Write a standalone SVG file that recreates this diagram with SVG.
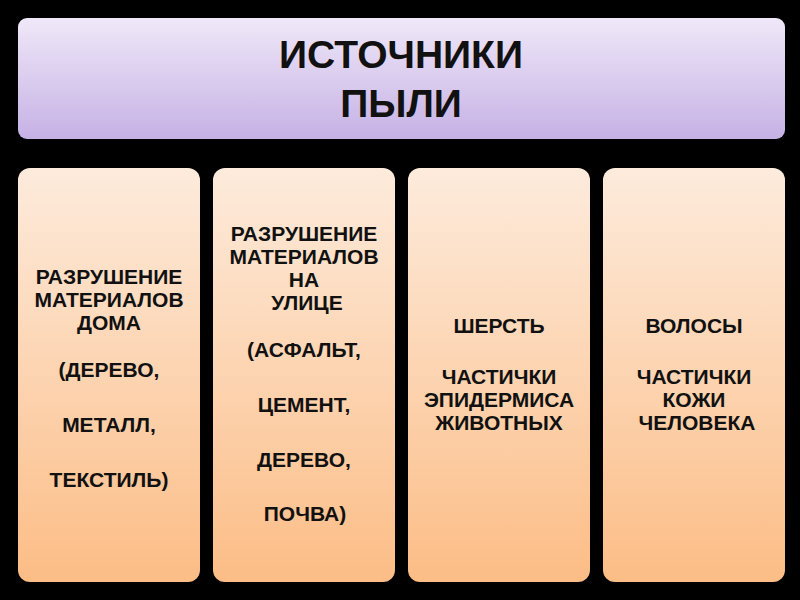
<svg xmlns="http://www.w3.org/2000/svg" width="800" height="600" viewBox="0 0 800 600">
  <defs>
    <linearGradient id="gHead" x1="0" y1="0" x2="0" y2="1">
      <stop offset="0" stop-color="#efe8f8"/>
      <stop offset="1" stop-color="#c6b1e5"/>
    </linearGradient>
    <linearGradient id="gBox" x1="0" y1="0" x2="0" y2="1">
      <stop offset="0" stop-color="#fdebdc"/>
      <stop offset="1" stop-color="#fcbd86"/>
    </linearGradient>
  </defs>
  <style>
    .head { fill: url(#gHead); }
    .box { fill: url(#gBox); }
    .t { font-family: "Liberation Sans", Arial, sans-serif; font-weight: bold; fill: #111; text-anchor: middle; }
    .h { font-size: 39px; }
    .b { font-size: 21px; }
  </style>
  <rect x="0" y="0" width="800" height="600" fill="#000"/>

  <g id="header">
    <rect class="head" x="18" y="18" width="767" height="121" rx="9"/>
    <text class="t h" x="401" y="68">ИСТОЧНИКИ</text>
    <text class="t h" x="401" y="117">ПЫЛИ</text>
  </g>

  <g id="box-home">
    <rect class="box" x="18" y="168" width="182" height="414" rx="12"/>
    <text class="t b" x="109" y="284">РАЗРУШЕНИЕ</text>
    <text class="t b" x="109" y="307">МАТЕРИАЛОВ</text>
    <text class="t b" x="109" y="330">ДОМА</text>
    <text class="t b" x="109" y="377">(ДЕРЕВО,</text>
    <text class="t b" x="109" y="432">МЕТАЛЛ,</text>
    <text class="t b" x="109" y="487">ТЕКСТИЛЬ)</text>
  </g>

  <g id="box-street">
    <rect class="box" x="213" y="168" width="182" height="414" rx="12"/>
    <text class="t b" x="304" y="241">РАЗРУШЕНИЕ</text>
    <text class="t b" x="304" y="264">МАТЕРИАЛОВ</text>
    <text class="t b" x="304" y="287">НА</text>
    <text class="t b" x="307" y="310">УЛИЦЕ</text>
    <text class="t b" x="304" y="357">(АСФАЛЬТ,</text>
    <text class="t b" x="304" y="412">ЦЕМЕНТ,</text>
    <text class="t b" x="304" y="467">ДЕРЕВО,</text>
    <text class="t b" x="305" y="521">ПОЧВА)</text>
  </g>

  <g id="box-animals">
    <rect class="box" x="408" y="168" width="182" height="414" rx="12"/>
    <text class="t b" x="499" y="333">ШЕРСТЬ</text>
    <text class="t b" x="499" y="384">ЧАСТИЧКИ</text>
    <text class="t b" x="499" y="407">ЭПИДЕРМИСА</text>
    <text class="t b" x="499" y="430">ЖИВОТНЫХ</text>
  </g>

  <g id="box-human">
    <rect class="box" x="603" y="168" width="182" height="414" rx="12"/>
    <text class="t b" x="694" y="333">ВОЛОСЫ</text>
    <text class="t b" x="694" y="384">ЧАСТИЧКИ</text>
    <text class="t b" x="694" y="407">КОЖИ</text>
    <text class="t b" x="697" y="430">ЧЕЛОВЕКА</text>
  </g>

  <g id="connectors"/>
</svg>
